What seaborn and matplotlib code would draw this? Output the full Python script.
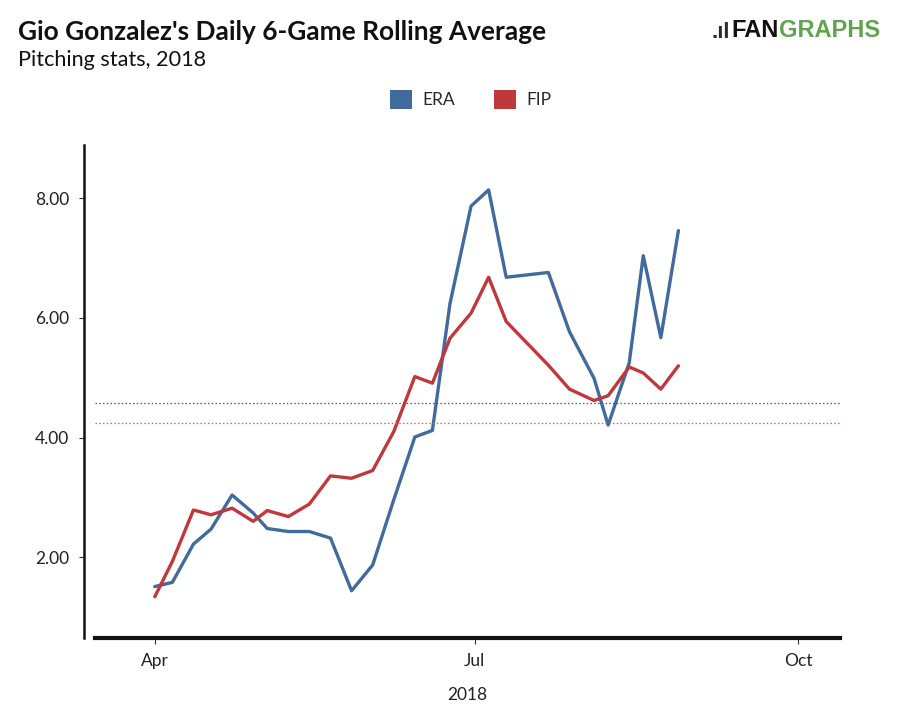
import matplotlib
matplotlib.use("Agg")
import matplotlib.pyplot as plt
from matplotlib.patches import Patch
from matplotlib.ticker import FuncFormatter
import seaborn as sns
import pandas as pd

# ---- data ----
game_dates = ["2018-04-01", "2018-04-06", "2018-04-12", "2018-04-17", "2018-04-23",
              "2018-04-29", "2018-05-03", "2018-05-09", "2018-05-15", "2018-05-21",
              "2018-05-27", "2018-06-02", "2018-06-08", "2018-06-14", "2018-06-19",
              "2018-06-24", "2018-06-30", "2018-07-05", "2018-07-10", "2018-07-22",
              "2018-07-28", "2018-08-04", "2018-08-08", "2018-08-14", "2018-08-18",
              "2018-08-23", "2018-08-28"]
era = [1.51, 1.58, 2.22, 2.47, 3.04, 2.74, 2.48, 2.43, 2.43, 2.32,
       1.44, 1.87, 2.96, 4.01, 4.12, 6.24, 7.87, 8.14, 6.68, 6.76,
       5.77, 4.99, 4.21, 5.25, 7.04, 5.67, 7.46]
fip = [1.34, 1.93, 2.79, 2.71, 2.82, 2.60, 2.78, 2.68, 2.89, 3.36,
       3.32, 3.45, 4.10, 5.02, 4.91, 5.66, 6.08, 6.68, 5.94, 5.21,
       4.81, 4.62, 4.70, 5.18, 5.08, 4.81, 5.20]
season_era = 4.57
season_fip = 4.25
series_names = ["ERA", "FIP"]
x_ticks = ["2018-04-01", "2018-07-01", "2018-10-01"]
x_tick_labels = ["Apr", "Jul", "Oct"]
y_ticks = [2, 4, 6, 8]

title = "Gio Gonzalez's Daily 6-Game Rolling Average"
subtitle = "Pitching stats, 2018"
x_label = "2018"

colors = {"ERA": "#416a9d", "FIP": "#c0373c"}

# ---- build table ----
df = pd.DataFrame({
    "date": pd.to_datetime(game_dates * 2),
    "value": era + fip,
    "stat": ["ERA"] * len(era) + ["FIP"] * len(fip),
})

sns.set_theme(style="white")
plt.rcParams["font.family"] = ["Lato", "DejaVu Sans"]

fig = plt.figure(figsize=(9, 7.18), dpi=100)
ax = fig.add_axes([0.1056, 0.1114, 0.8278, 0.6866])

sns.lineplot(data=df, x="date", y="value", hue="stat", palette=colors,
             linewidth=2.4, ax=ax, legend=False)

ax.axhline(season_era, color="#3d5f70", linestyle=(0, (1.2, 1.8)), linewidth=0.9)
ax.axhline(season_fip, color="#d0606a", linestyle=(0, (1.2, 1.8)), linewidth=0.9)

ax.set_xlim(pd.Timestamp("2018-03-15"), pd.Timestamp("2018-10-13"))
ax.set_ylim(0.65, 8.89)

ax.set_xticks(pd.to_datetime(x_ticks))
ax.set_xticklabels(x_tick_labels)
ax.set_yticks(y_ticks)
ax.yaxis.set_major_formatter(FuncFormatter(lambda v, p: f"{v:.2f}"))

ax.set_xlabel(x_label, fontsize=12.5, labelpad=13, color="#222222")
ax.set_ylabel("")

for s in ["top", "right"]:
    ax.spines[s].set_visible(False)
ax.spines["left"].set_position(("outward", 8))
ax.spines["left"].set_linewidth(1.8)
ax.spines["left"].set_color("#111111")
ax.spines["bottom"].set_linewidth(3)
ax.spines["bottom"].set_color("#111111")

ax.tick_params(axis="y", which="major", direction="out", length=3.5, width=0.8,
               color="#333333", labelsize=12.5, pad=7, left=True, labelcolor="#222222")
ax.tick_params(axis="x", which="major", direction="out", length=4, width=0.8,
               color="#333333", labelsize=12.5, pad=7, bottom=True, labelcolor="#222222")

# legend
handles = [Patch(facecolor=colors[n], edgecolor="none", label=n) for n in series_names]
fig.legend(handles=handles, loc="center", bbox_to_anchor=(0.523, 0.862), ncol=2,
           frameon=False, fontsize=12.5, handlelength=1.3, handleheight=1.3,
           columnspacing=2.2, handletextpad=0.6)

# titles
fig.text(0.02, 0.972, title, fontsize=18.9, fontweight="bold", ha="left", va="top",
         color="#111111")
fig.text(0.02, 0.93, subtitle, fontsize=15.6, ha="left", va="top", color="#111111")

# logo: ".ıl" icon + FAN + GRAPHS, placed edge to edge
logo_font = ["Liberation Sans", "DejaVu Sans"]
t_graphs = fig.text(0.978, 0.957, "GRAPHS", fontsize=17, fontweight="bold", ha="right",
                    va="center", color="#62a34f", family=logo_font)
fig.canvas.draw()
r = fig.canvas.get_renderer()
bb = t_graphs.get_window_extent(r)
x0 = bb.x0 / fig.bbox.width
t_fan = fig.text(x0, 0.957, "FAN", fontsize=17, fontweight="bold", ha="right",
                 va="center", color="#111111", family=logo_font)
fig.canvas.draw()
bb2 = t_fan.get_window_extent(r)
x1 = bb2.x0 / fig.bbox.width - 0.002
fig.text(x1, 0.955, ".\u0131l", fontsize=16, fontweight="bold", ha="right",
         va="center", color="#2a2a2a", family=logo_font)

fig.savefig("out.png", dpi=100)
